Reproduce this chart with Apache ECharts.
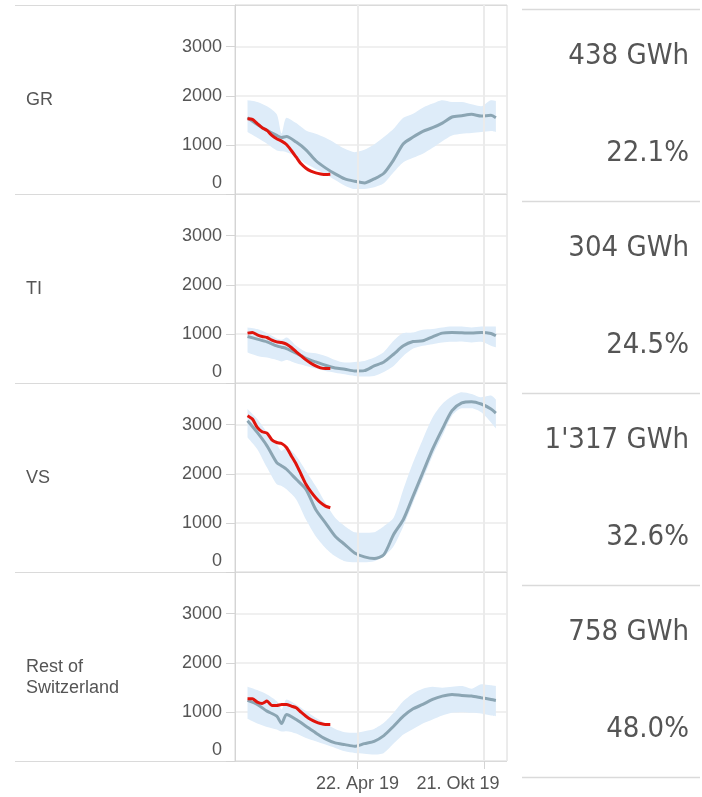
<!DOCTYPE html>
<html>
<head>
<meta charset="utf-8">
<script src="https://cdn.jsdelivr.net/npm/echarts@6/dist/echarts.min.js"></script>
<style>
html, body { margin: 0; padding: 0; background: #fff; }
#chart { width: 702px; height: 797px; }
</style>
</head>
<body>
<div id="chart"></div>
<script>
// regions and the two figures shown on the right of each row
var regions = ['GR', 'TI', 'VS', 'Rest of\nSwitzerland'];
var energyGWh = [438, 304, 1317, 758];
var sharePct = [22.1, 24.5, 32.6, 48.0];

// x positions: weeks of the typical year (band + median), weekly for the current year
var weeks = ['2018-11-15', '2018-11-29', '2018-12-13', '2018-12-27', '2019-01-03', '2019-01-10',
    '2019-01-24', '2019-02-07', '2019-02-21', '2019-03-07', '2019-03-21', '2019-04-04',
    '2019-04-18', '2019-05-02', '2019-05-16', '2019-05-30', '2019-06-13', '2019-06-27',
    '2019-07-11', '2019-07-25', '2019-08-08', '2019-08-22', '2019-09-05', '2019-09-19',
    '2019-10-03', '2019-10-17', '2019-10-31', '2019-11-07'];
var currentWeeks = ['2018-11-15', '2018-11-22', '2018-11-29', '2018-12-06', '2018-12-13', '2018-12-20',
    '2018-12-27', '2019-01-03', '2019-01-10', '2019-01-17', '2019-01-24', '2019-01-31',
    '2019-02-07', '2019-02-14', '2019-02-21', '2019-02-28', '2019-03-07', '2019-03-14'];
var xTickDates = ['2019-04-22', '2019-10-21'];
var xTickLabels = ['22. Apr 19', '21. Okt 19'];

// GR
var grMedian = [1554, 1418, 1295, 1193, 1150, 1172, 1057, 900, 682, 532, 409, 307, 259, 225, 307, 423, 695, 1023, 1159, 1275, 1350, 1445, 1568, 1595, 1622, 1588, 1602, 1554];
var grMax = [1909, 1875, 1786, 1622, 1230, 1554, 1445, 1295, 1227, 1145, 1036, 920, 852, 900, 1009, 1159, 1329, 1554, 1636, 1759, 1841, 1909, 1875, 1875, 1827, 1786, 1909, 1895];
var grMin = [1261, 1145, 1023, 886, 870, 852, 764, 614, 511, 409, 286, 170, 102, 102, 136, 218, 443, 648, 736, 818, 941, 1077, 1193, 1227, 1241, 1261, 1282, 1261];
var grCurrent = [1534, 1520, 1432, 1350, 1295, 1193, 1125, 1077, 1009, 886, 750, 614, 525, 464, 430, 409, 395, 402];

// TI
var tiMedian = [948, 893, 838, 757, 729, 702, 607, 504, 429, 361, 307, 280, 245, 252, 348, 429, 586, 757, 845, 859, 941, 1016, 1029, 1023, 1016, 1029, 1009, 961];
var tiMax = [1132, 1098, 1016, 907, 880, 927, 757, 634, 607, 552, 470, 416, 429, 450, 518, 634, 859, 1016, 1029, 1084, 1098, 1132, 1152, 1152, 1132, 1152, 1152, 1152];
var tiMin = [620, 552, 518, 470, 440, 470, 402, 348, 293, 245, 211, 177, 143, 130, 143, 225, 348, 552, 702, 757, 791, 825, 838, 845, 825, 838, 757, 723];
var tiCurrent = [1016, 1029, 982, 948, 927, 873, 838, 825, 791, 723, 634, 552, 470, 402, 348, 307, 293, 293];

// VS
var vsMedian = [3081, 2843, 2570, 2229, 2161, 2093, 1888, 1684, 1275, 1002, 729, 559, 389, 307, 273, 354, 763, 1070, 1547, 2025, 2502, 2911, 3286, 3443, 3470, 3422, 3320, 3238];
var vsMax = [3320, 3115, 2843, 2604, 2468, 2536, 2365, 2059, 1752, 1411, 1104, 934, 811, 798, 811, 934, 1104, 1684, 2229, 2706, 3149, 3422, 3579, 3661, 3627, 3559, 3593, 3511];
var vsMin = [2740, 2502, 2127, 1786, 1752, 1684, 1479, 1070, 729, 491, 320, 218, 198, 198, 218, 320, 525, 934, 1411, 1888, 2365, 2775, 3184, 3334, 3334, 3252, 3047, 2925];
var vsCurrent = [3184, 3115, 2945, 2856, 2829, 2693, 2638, 2618, 2536, 2365, 2195, 1991, 1786, 1636, 1513, 1411, 1343, 1309];

// Rest of Switzerland
var restMedian = [1234, 1152, 1016, 913, 764, 948, 845, 709, 573, 450, 368, 334, 300, 354, 402, 518, 709, 913, 1063, 1152, 1254, 1322, 1357, 1336, 1322, 1288, 1254, 1234];
var restMax = [1513, 1445, 1357, 1220, 1050, 1254, 1152, 1016, 879, 764, 654, 586, 573, 607, 654, 777, 982, 1220, 1377, 1472, 1513, 1493, 1513, 1527, 1472, 1561, 1541, 1527];
var restMin = [859, 764, 695, 641, 600, 607, 559, 470, 402, 334, 266, 198, 164, 150, 130, 164, 354, 539, 654, 764, 845, 927, 982, 995, 982, 968, 927, 913];
var restCurrent = [1268, 1268, 1200, 1173, 1220, 1132, 1132, 1152, 1152, 1118, 1084, 995, 913, 845, 798, 764, 743, 743];

var medians = [grMedian, tiMedian, vsMedian, restMedian];
var maxima = [grMax, tiMax, vsMax, restMax];
var minima = [grMin, tiMin, vsMin, restMin];
var currents = [grCurrent, tiCurrent, vsCurrent, restCurrent];

var textColor = '#555555';
var armFont = "'Liberation Sans', Arial, sans-serif";
var bigFont = "'DejaVu Sans Condensed', 'DejaVu Sans', sans-serif";

var chart;

$ready(function() {
    initChart();
    addDateTicks();
});

function $ready(fn) {
    if (document.readyState !== 'loading') fn();
    else document.addEventListener('DOMContentLoaded', fn);
}

function pairs(dates, values) {
    return values.map(function(v, k) { return [dates[k], v]; });
}

function fmtGWh(v) {
    return String(v).replace(/\B(?=(\d{3})+(?!\d))/g, "'") + ' GWh';
}

function initChart() {
    chart = echarts.init(document.getElementById('chart'), null, { renderer: 'canvas' });

    var panelTop = 5, panelH = 189, rowH = 192;
    var grids = [], xAxes = [], yAxes = [], series = [], graphics = [];

    for (var i = 0; i < 4; i++) {
        grids.push({
            left: 235, width: 272, top: panelTop + i * panelH, height: panelH,
            show: true, borderColor: '#d8d8d8', borderWidth: 1
        });
        xAxes.push({
            type: 'time', gridIndex: i,
            min: '2018-10-28', max: '2019-11-23',
            axisLine: { show: false }, axisTick: { show: false },
            axisLabel: { show: false }, splitLine: { show: false }
        });
        yAxes.push({
            type: 'value', gridIndex: i,
            min: 0, max: 3850, interval: 1000,
            axisLine: { show: true, lineStyle: { color: '#d4d4d4' } },
            axisTick: { show: true, length: 9, lineStyle: { color: '#d4d4d4' } },
            axisLabel: {
                showMaxLabel: false, margin: 13, color: textColor,
                fontSize: 18, fontFamily: armFont,
                formatter: function(v) { return v === 0 ? '{z|0}' : String(v); },
                rich: { z: { padding: [0, 0, 22, 0], fontSize: 18, fontFamily: armFont, color: textColor } }
            },
            splitLine: { lineStyle: { color: '#ebebeb', width: 1.5 } }
        });

        var diff = maxima[i].map(function(v, k) { return v - minima[i][k]; });

        // vertical date grid lines (and the bottom labels on the last row)
        series.push({
            type: 'line', xAxisIndex: i, yAxisIndex: i, data: [], z: 1, silent: true,
            markLine: {
                symbol: 'none', silent: true, animation: false,
                lineStyle: { color: '#ebebeb', width: 2, type: 'solid' },
                label: {
                    show: i === 3, position: 'start', distance: 14,
                    color: textColor, fontSize: 18, fontFamily: armFont
                },
                data: xTickDates.map(function(d, k) {
                    return {
                        xAxis: d,
                        label: { formatter: xTickLabels[k], offset: [k === 1 ? -26 : 0, 0] }
                    };
                })
            }
        });
        series.push({
            type: 'line', xAxisIndex: i, yAxisIndex: i, stack: 'band' + i,
            data: pairs(weeks, minima[i]), symbol: 'none', smooth: 0.25,
            lineStyle: { opacity: 0 }, silent: true, z: 2
        });
        series.push({
            type: 'line', xAxisIndex: i, yAxisIndex: i, stack: 'band' + i,
            data: pairs(weeks, diff), symbol: 'none', smooth: 0.25,
            lineStyle: { opacity: 0 }, areaStyle: { color: '#deecf9', opacity: 1 },
            silent: true, z: 2
        });
        series.push({
            type: 'line', xAxisIndex: i, yAxisIndex: i,
            data: pairs(weeks, medians[i]), symbol: 'none', smooth: 0.25,
            lineStyle: { color: '#8ba5b3', width: 3 }, z: 3
        });
        series.push({
            type: 'line', xAxisIndex: i, yAxisIndex: i,
            data: pairs(currentWeeks, currents[i]), symbol: 'none', smooth: 0.2,
            lineStyle: { color: '#e0140c', width: 3 }, z: 4
        });

        // row label
        graphics.push({
            type: 'text', left: 26, top: i === 3 ? 657 : panelTop + i * panelH + panelH / 2 - 10,
            style: {
                text: regions[i], fill: textColor, font: '18px ' + armFont, lineHeight: 21
            }
        });
        // right-hand figures
        graphics.push({
            type: 'text', x: 689, y: 56 + i * rowH,
            style: {
                text: fmtGWh(energyGWh[i]), fill: textColor, font: '29px ' + bigFont,
                textAlign: 'right', textVerticalAlign: 'middle'
            }
        });
        graphics.push({
            type: 'text', x: 689, y: 153 + i * rowH,
            style: {
                text: sharePct[i].toFixed(1) + '%', fill: textColor, font: '29px ' + bigFont,
                textAlign: 'right', textVerticalAlign: 'middle'
            }
        });
    }

    // row separators
    for (var j = 0; j <= 4; j++) {
        graphics.push({
            type: 'line', silent: true,
            shape: { x1: 15, y1: panelTop + j * panelH + 0.5, x2: 507, y2: panelTop + j * panelH + 0.5 },
            style: { stroke: '#dadada', lineWidth: 1 }
        });
        graphics.push({
            type: 'line', silent: true,
            shape: { x1: 522, y1: 9 + j * rowH + 0.5, x2: 700, y2: 9 + j * rowH + 0.5 },
            style: { stroke: '#dadada', lineWidth: 1.5 }
        });
    }

    var option = {
        animation: false,
        backgroundColor: '#ffffff',
        grid: grids,
        xAxis: xAxes,
        yAxis: yAxes,
        series: series,
        graphic: graphics
    };
    chart.setOption(option);
}

// small tick marks under the bottom axis, placed through the last x axis
function addDateTicks() {
    var bottom = 5 + 4 * 189;
    var ticks = xTickDates.map(function(d) {
        var x = Math.round(chart.convertToPixel({ xAxisIndex: 3 }, d)) + 0.5;
        return {
            type: 'line', silent: true,
            shape: { x1: x, y1: bottom, x2: x, y2: bottom + 8 },
            style: { stroke: '#d4d4d4', lineWidth: 1 }
        };
    });
    var graphics = chart.getOption().graphic[0].elements.slice();
    chart.setOption({ graphic: graphics.concat(ticks) }, { replaceMerge: ['graphic'] });
}
</script>
</body>
</html>
